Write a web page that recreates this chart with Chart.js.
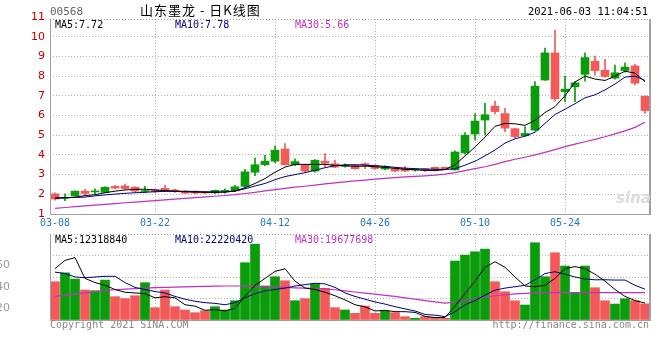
<!DOCTYPE html>
<html>
<head>
<meta charset="utf-8">
<script src="https://cdn.jsdelivr.net/npm/chart.js@4.4.1/dist/chart.umd.min.js"></script>
<style>
body { margin: 0; background: #fff; }
#wrap { position: relative; width: 660px; height: 360px; overflow: hidden; font-family: 'DejaVu Sans Mono', monospace; font-size: 10px; }
canvas { position: absolute; left: 0; }
.t { position: absolute; white-space: pre; line-height: 11px; }
</style>
</head>
<body>
<div id="wrap">
  <canvas id="k" width="660" height="232" style="top:0"></canvas>
  <canvas id="v" width="660" height="100" style="top:232px"></canvas>

  <div class="t" style="left:50px;top:6px;color:#666;font-size:11px">00568</div>
  <div class="t" style="left:140px;top:2px;color:#000;font-family:'Noto Sans CJK SC';font-size:13px;line-height:16px;letter-spacing:1px">山东墨龙 - 日K线图</div>
  <div class="t" style="right:12px;top:6px;color:#000;font-size:10.5px">2021-06-03 11:04:51</div>

  <div class="t" style="left:55px;top:19px;color:#000">MA5:7.72</div>
  <div class="t" style="left:175px;top:19px;color:#000080">MA10:7.78</div>
  <div class="t" style="left:295px;top:19px;color:#c030c0">MA30:5.66</div>
  <div class="t" style="left:616px;top:191px;color:#ddd;font-family:'DejaVu Sans';font-style:italic;font-weight:bold;font-size:15px;line-height:15px">sina</div>

  <div class="t" style="left:55px;top:234px;color:#000">MA5:12318840</div>
  <div class="t" style="left:175px;top:234px;color:#000080">MA10:22220420</div>
  <div class="t" style="left:295px;top:234px;color:#c030c0">MA30:19677698</div>

  <div class="t" style="left:50px;top:319px;color:#888">Copyright 2021 SINA.COM</div>
  <div class="t" style="right:11px;top:319px;color:#888">http://finance.sina.com.cn</div>
</div>

<script>
// HK trading days 2021-03-08 .. 2021-06-03
const dates = [
  '03-08','03-09','03-10','03-11','03-12','03-15','03-16','03-17','03-18','03-19',
  '03-22','03-23','03-24','03-25','03-26','03-29','03-30','03-31','04-01','04-07',
  '04-08','04-09','04-12','04-13','04-14','04-15','04-16','04-19','04-20','04-21',
  '04-22','04-23','04-26','04-27','04-28','04-29','04-30','05-03','05-04','05-05',
  '05-06','05-07','05-10','05-11','05-12','05-13','05-14','05-17','05-18','05-20',
  '05-21','05-24','05-25','05-26','05-27','05-28','05-31','06-01','06-02','06-03'
];
const tickDates = ['03-08','03-22','04-12','04-26','05-10','05-24'];

const open = [
  2.02,1.80,1.93,2.16,2.12,2.10,2.40,2.42,2.36,2.14,
  2.23,2.30,2.19,2.17,2.16,2.09,2.07,2.15,2.18,2.40,
  3.12,3.50,3.68,4.30,3.50,3.50,3.18,3.68,3.55,3.42,
  3.48,3.55,3.46,3.28,3.32,3.32,3.24,3.30,3.37,3.37,
  3.24,4.10,5.06,5.77,6.48,6.10,5.33,4.97,5.26,7.80,
  9.18,7.21,7.46,8.09,8.76,8.30,7.90,8.28,8.52,6.98
];
const high = [
  2.08,2.02,2.18,2.25,2.28,2.38,2.46,2.52,2.38,2.40,
  2.26,2.47,2.26,2.19,2.17,2.10,2.22,2.28,2.46,3.27,
  3.84,3.98,4.45,4.58,3.80,3.52,3.76,4.07,3.74,3.55,
  3.52,3.60,3.50,3.45,3.35,3.42,3.30,3.32,3.39,3.38,
  4.21,5.13,6.10,6.62,6.73,6.36,5.36,5.43,7.72,9.42,
  10.34,8.00,7.72,9.18,9.02,8.85,8.56,8.68,8.60,7.00
];
const low = [
  1.70,1.68,1.92,1.98,2.00,2.08,2.27,2.25,2.12,2.10,
  2.10,2.14,2.10,2.04,2.03,2.05,2.05,2.06,2.15,2.32,
  2.95,3.45,3.60,3.48,3.46,3.15,3.12,3.40,3.35,3.38,
  3.28,3.30,3.28,3.24,3.14,3.15,3.18,3.15,3.22,3.25,
  3.22,4.05,4.75,5.01,6.08,5.18,4.84,4.95,5.22,7.78,
  6.73,6.70,6.70,7.75,8.05,7.95,7.85,8.20,7.55,6.11
];
const close = [
  1.76,1.83,2.16,2.04,2.15,2.36,2.31,2.29,2.16,2.18,
  2.13,2.17,2.17,2.06,2.06,2.07,2.20,2.19,2.38,3.14,
  3.50,3.68,4.24,3.50,3.66,3.18,3.73,3.58,3.38,3.47,
  3.30,3.47,3.31,3.39,3.18,3.18,3.27,3.20,3.27,3.27,
  4.15,5.00,5.72,6.04,6.20,5.36,4.93,5.09,7.49,9.18,
  6.85,7.34,7.66,8.94,8.28,7.98,8.17,8.46,7.64,6.25
];

const ma5 = [
  1.80,1.82,1.86,1.93,1.98,2.08,2.16,2.22,2.25,2.26,
  2.22,2.19,2.16,2.13,2.11,2.10,2.10,2.11,2.17,2.33,
  2.55,2.80,3.12,3.38,3.52,3.52,3.52,3.52,3.47,3.45,
  3.42,3.43,3.40,3.37,3.32,3.27,3.24,3.22,3.20,3.25,
  3.50,3.95,4.40,4.90,5.45,5.60,5.58,5.50,5.75,6.15,
  6.45,7.00,7.70,8.00,7.85,7.78,8.00,8.25,8.15,7.72
];
const ma10 = [
  1.82,1.83,1.84,1.86,1.92,1.97,2.01,2.05,2.08,2.10,
  2.13,2.15,2.15,2.15,2.14,2.13,2.12,2.12,2.16,2.28,
  2.42,2.55,2.74,2.90,3.00,3.10,3.22,3.35,3.45,3.50,
  3.50,3.48,3.45,3.42,3.37,3.33,3.30,3.28,3.27,3.26,
  3.30,3.48,3.68,3.95,4.25,4.60,4.82,4.95,5.15,5.60,
  6.05,6.32,6.60,6.90,7.05,7.30,7.60,7.95,8.00,7.78
];
const ma30 = [
  1.29,1.33,1.37,1.41,1.45,1.49,1.53,1.57,1.60,1.64,
  1.68,1.72,1.76,1.79,1.83,1.87,1.90,1.94,1.98,2.04,
  2.10,2.17,2.24,2.30,2.36,2.41,2.47,2.53,2.58,2.63,
  2.68,2.72,2.77,2.81,2.85,2.88,2.91,2.94,2.97,3.02,
  3.10,3.20,3.30,3.40,3.52,3.66,3.78,3.88,4.00,4.13,
  4.27,4.42,4.55,4.67,4.79,4.92,5.07,5.22,5.40,5.66
];

// volume, millions of shares
const volume = [
  27.6,34.0,29.5,21.6,21.1,28.8,16.8,15.4,17.5,26.9,
  8.9,21.6,9.6,7.2,5.3,6.7,9.6,7.2,13.9,41.3,
  54.7,24.5,31.2,28.3,13.9,15.4,25.9,22.8,8.9,7.2,
  4.8,10.1,4.8,6.5,5.3,2.4,1.2,2.4,1.9,1.2,
  42.5,46.8,49.2,51.1,27.6,20.4,13.9,10.8,55.7,31.2,
  48.5,38.9,19.7,38.9,23.3,13.9,11.5,15.3,13.9,11.7
];
const vma5 = [
  37,43,45,30,27,25,22,20,19.5,19,
  16,16.8,16,11,10,7,7.5,6.5,8.5,17,
  25,30,35,37,28,23,22,20,17.5,14.5,
  11,9.5,6.5,7,6,6,5.5,2.6,1.8,1.8,
  10,19,28,38,42,38,31,24.5,24,25,
  30,37,38.5,37,33,28,22,17,14,12.3
];
const vma10 = [
  34.5,33.5,31,30.5,31,31.5,31.5,27,23.5,22,
  20.5,19.5,17,15,13.5,12.5,12,11,12.5,16,
  19,21,22,23,24.5,25.5,26.5,26,23.5,19.5,
  17,15,13,11.5,9.6,8,6.5,4,3.5,2.4,
  6,11,14,18,21.5,23,24,25,29,33.5,
  34.8,33,31,29.5,29,29,28.8,28.8,25,22.2
];
const vma30 = [
  17,18,18.7,19.5,20.3,21.3,21.8,22.2,22.6,23,
  23.3,23.5,23.7,23.9,24.1,24.3,24.4,24.5,24.5,24.4,
  24.3,24.1,23.8,23.5,23.2,23,22.9,22.5,21.8,21,
  20.2,19.4,18.6,17.8,17,16,15,14,13,12.2,
  12.8,14,15.3,16.6,17.5,18.2,18.8,19.2,19.5,19.6,
  19.7,19.7,19.7,19.7,19.7,19.7,19.7,19.7,19.7,19.68
];

const priceTicks = [1,2,3,4,5,6,7,8,9,10,11];
const volTicks = [0, 15.5, 31, 46.5, 62];
const volTickLabels = ['', '20', '40', '60', ''];

const UP = '#0a9c0a', DOWN = '#f25a5a', GRID = '#b4b4b4';
const colors = close.map((c, i) => c >= open[i] ? UP : DOWN);
const bodies = open.map((o, i) => [Math.min(o, close[i]), Math.max(o, close[i])]);
const wicks = low.map((l, i) => [l, high[i]]);

Chart.defaults.font.family = "'DejaVu Sans Mono', monospace";
Chart.defaults.font.size = 10;

const frame = {
  id: 'frame',
  afterDraw(chart) {
    const { ctx, chartArea: a } = chart;
    ctx.save();
    ctx.strokeStyle = '#a0a0a0';
    ctx.lineWidth = 1;
    ctx.beginPath();
    ctx.moveTo(a.left + 0.5, a.top);
    ctx.lineTo(a.left + 0.5, a.bottom + 0.5);
    ctx.lineTo(a.right, a.bottom + 0.5);
    ctx.stroke();
    ctx.lineWidth = 2;
    ctx.beginPath();
    ctx.moveTo(a.right, a.top);
    ctx.lineTo(a.right, a.bottom + 1);
    ctx.stroke();
    ctx.lineWidth = 1;
    ctx.setLineDash([1, 2]);
    ctx.beginPath();
    ctx.moveTo(a.left, a.top + 0.5);
    ctx.lineTo(a.right, a.top + 0.5);
    ctx.stroke();
    ctx.restore();
  }
};

// fixed axis box sizes, no extra label padding
const fixY = s => { s.width = 50; s.paddingTop = 0; s.paddingBottom = 0; };

const xGridColor = ctx => (ctx.index > 0 && tickDates.includes(dates[ctx.index])) ? GRID : 'rgba(0,0,0,0)';
const line = (data, color, w) => ({
  type: 'line', data, borderColor: color, borderWidth: w || 1,
  pointRadius: 0, tension: 0, order: 0
});

new Chart(document.getElementById('k'), {
  type: 'bar',
  data: {
    labels: dates,
    datasets: [
      line(ma5, '#000000'),
      line(ma10, '#000080'),
      line(ma30, '#c030c0', 1.2),
      { data: bodies, backgroundColor: colors, barThickness: 8, minBarLength: 1, grouped: false, order: 1 },
      { data: wicks, backgroundColor: colors, barThickness: 1, grouped: false, order: 2 }
    ]
  },
  options: {
    responsive: false,
    animation: false,
    layout: { padding: { top: 19, right: 10, left: 0, bottom: 0 } },
    plugins: { legend: { display: false }, tooltip: { enabled: false } },
    scales: {
      x: {
        offset: true,
        grid: { offset: false, drawTicks: false, color: xGridColor },
        border: { display: false, dash: [1, 2] },
        ticks: {
          autoSkip: false, maxRotation: 0, padding: 3, color: '#2a78b4',
          callback: (v, i) => tickDates.includes(dates[i]) ? dates[i] : ''
        },
        afterFit: s => { s.height = 18; }
      },
      y: {
        min: 1, max: 10.9,
        afterBuildTicks: s => { s.ticks = priceTicks.map(v => ({ value: v })); },
        grid: { drawTicks: false, color: c => (c.tick.value >= 2 && c.tick.value <= 10) ? GRID : 'rgba(0,0,0,0)' },
        border: { display: false, dash: [1, 2] },
        ticks: { color: '#c00000', padding: 5, font: { family: 'DejaVu Sans', size: 11 } },
        afterFit: fixY
      }
    }
  },
  plugins: [frame]
});

new Chart(document.getElementById('v'), {
  type: 'bar',
  data: {
    labels: dates,
    datasets: [
      line(vma5, '#000000'),
      line(vma10, '#000080'),
      line(vma30, '#c030c0', 1.2),
      { data: volume, backgroundColor: colors, barThickness: 9, order: 1 }
    ]
  },
  options: {
    responsive: false,
    animation: false,
    layout: { padding: { top: 2, right: 10, left: 0, bottom: 0 } },
    plugins: { legend: { display: false }, tooltip: { enabled: false } },
    scales: {
      x: {
        offset: true,
        grid: { offset: false, drawTicks: false, color: xGridColor },
        border: { display: false, dash: [1, 2] },
        ticks: { display: false },
        afterFit: s => { s.height = 12; }
      },
      y: {
        min: 0, max: 62,
        afterBuildTicks: s => { s.ticks = volTicks.map(v => ({ value: v })); },
        grid: { drawTicks: false, color: c => (c.index > 0 && c.index < volTicks.length - 1) ? GRID : 'rgba(0,0,0,0)' },
        border: { display: false, dash: [1, 2] },
        ticks: {
          color: '#999', padding: 40, labelOffset: 10, font: { family: 'DejaVu Sans', size: 11 },
          callback: (v, i) => volTickLabels[i]
        },
        afterFit: fixY
      }
    }
  },
  plugins: [frame]
});
</script>
</body>
</html>
